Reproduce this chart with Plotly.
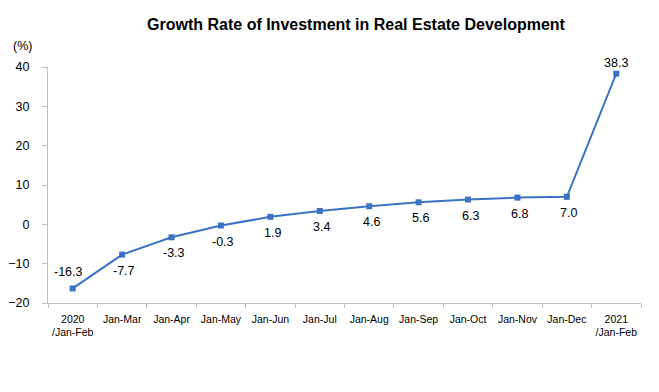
import plotly.graph_objects as go

categories = ["2020<br>/Jan-Feb", "Jan-Mar", "Jan-Apr", "Jan-May", "Jan-Jun", "Jan-Jul",
              "Jan-Aug", "Jan-Sep", "Jan-Oct", "Jan-Nov", "Jan-Dec", "2021<br>/Jan-Feb"]
growth = [-16.3, -7.7, -3.3, -0.3, 1.9, 3.4, 4.6, 5.6, 6.3, 6.8, 7.0, 38.3]
label_above = [True] + [False] * 10 + [True]
y_ticks = [-20, -10, 0, 10, 20, 30, 40]

# page body has an 8px default margin; figure is sized to fit inside the window
W, H = 651, 384

fig = go.Figure()
fig.add_trace(go.Scatter(
    x=categories, y=growth,
    mode="lines+markers",
    line=dict(color="#3a72c4", width=2),
    marker=dict(symbol="square", size=6, color="#3a72c4"),
    showlegend=False,
))

for i, (c, v) in enumerate(zip(categories, growth)):
    if label_above[i]:
        ys = 16 if i == 0 else 11
        xs = -4 if i == 0 else 0
    else:
        ys = -16
        xs = 2
    fig.add_annotation(x=c, y=v, text=f"{v:.1f}", showarrow=False,
                       xshift=xs, yshift=ys, xanchor="center", yanchor="middle",
                       font=dict(family="Liberation Sans, Arial", size=12.5, color="#000000"))

fig.update_layout(
    width=W, height=H,
    margin=dict(l=40, r=18, t=59, b=89),
    paper_bgcolor="white", plot_bgcolor="white",
    title=dict(text="<b>Growth Rate of Investment in Real Estate Development</b>",
               x=348 / W, xanchor="center", xref="container",
               y=1 - 16 / H, yanchor="middle", yref="container",
               font=dict(family="Liberation Sans, Arial", size=16, color="#000000")),
    font=dict(family="Liberation Sans, Arial", color="#000000"),
)
fig.add_annotation(text="(%)", xref="paper", yref="paper",
                   x=-26 / 593, y=1 + 21 / 236, showarrow=False,
                   xanchor="center", yanchor="middle",
                   font=dict(size=12.5, family="Liberation Sans, Arial", color="#000000"))

fig.update_xaxes(
    type="category", range=[-0.5, 11.5], tickangle=0, automargin=False,
    showline=True, linecolor="#bfbfbf", linewidth=1,
    ticks="outside", tickson="boundaries", ticklen=4, tickcolor="#bfbfbf",
    ticklabelstandoff=6,
    showgrid=False, zeroline=False,
    tickfont=dict(size=10.5, family="Liberation Sans, Arial", color="#000000"),
)
fig.update_yaxes(
    range=[-20, 40], tickvals=y_ticks, automargin=False,
    showline=True, linecolor="#bfbfbf", linewidth=1,
    ticks="outside", ticklen=5, tickcolor="#bfbfbf",
    ticklabelstandoff=10,
    showgrid=False, zeroline=False,
    tickfont=dict(size=12.5, family="Liberation Sans, Arial", color="#000000"),
)

fig.write_html("out.html")
